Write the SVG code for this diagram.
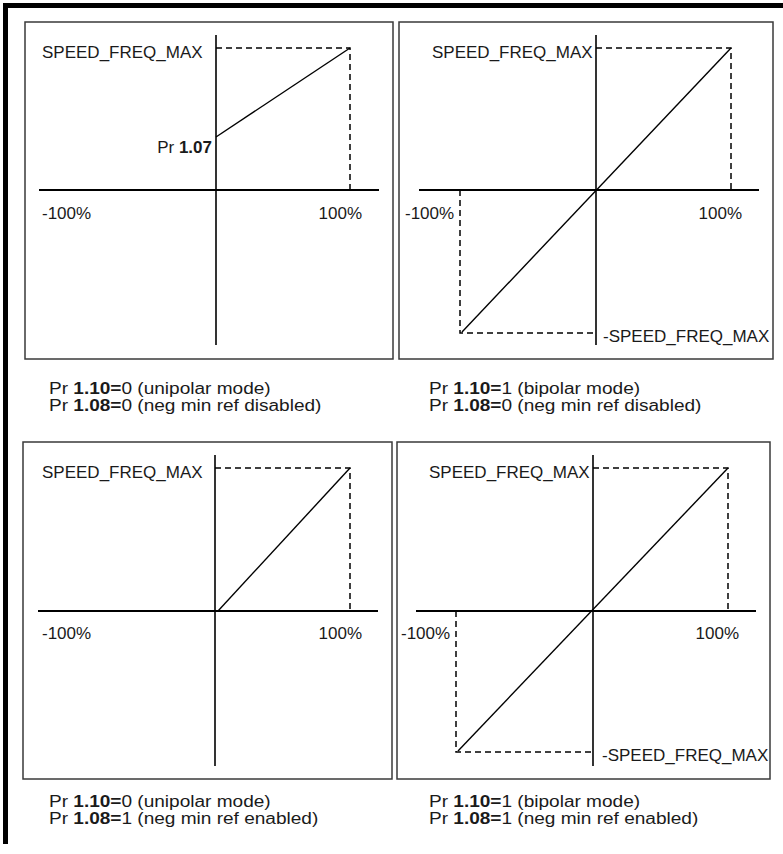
<svg xmlns="http://www.w3.org/2000/svg" width="783" height="854" viewBox="0 0 783 854">
<style>
text{font-family:"Liberation Sans",Arial,sans-serif;fill:#1a1a1a}
.lbl{font-size:17px}
.cap{font-size:16px}
.b{font-weight:bold}
.panel{fill:none;stroke:#3a3a3a;stroke-width:1.5}
.axis{stroke:#000;stroke-width:2;fill:none}
.yaxis{stroke:#000;stroke-width:1.6;fill:none}
.curve{stroke:#000;stroke-width:1.4;fill:none}
.dash{stroke:#000;stroke-width:1.5;fill:none;stroke-dasharray:6 4}
</style>
<rect width="783" height="854" fill="#fff"/>
<g id="frame">
<rect x="3" y="3" width="780" height="5" fill="#000"/>
<rect x="3" y="3" width="5" height="841" fill="#000"/>
</g>

<g id="panel1">
<rect class="panel" x="25" y="22" width="368" height="337"/>
<line class="axis" x1="39" y1="190" x2="379" y2="190"/>
<line class="yaxis" x1="216" y1="35" x2="216" y2="345"/>
<polyline class="dash" points="216,48 350,48 350,190"/>
<line class="curve" x1="216" y1="137" x2="350" y2="48"/>
<text class="lbl" x="42" y="57.5">SPEED_FREQ_MAX</text>
<text class="lbl" x="212" y="153" text-anchor="end">Pr <tspan class="b">1.07</tspan></text>
<text class="lbl" x="42" y="219">-100%</text>
<text class="lbl" x="362" y="219" text-anchor="end">100%</text>
<text class="cap" transform="translate(49,394) scale(1.19,1)">Pr <tspan class="b">1.10=</tspan>0 (unipolar mode)</text>
<text class="cap" transform="translate(49,411) scale(1.19,1)">Pr <tspan class="b">1.08=</tspan>0 (neg min ref disabled)</text>
</g>

<g id="panel2">
<rect class="panel" x="399" y="22" width="374" height="337"/>
<line class="axis" x1="419" y1="190" x2="759" y2="190"/>
<line class="yaxis" x1="596" y1="35" x2="596" y2="345"/>
<polyline class="dash" points="596,48 731,48 731,190"/>
<polyline class="dash" points="460,190 460,333 596,333"/>
<line class="curve" x1="731" y1="48" x2="462" y2="332"/>
<text class="lbl" x="432" y="57.5">SPEED_FREQ_MAX</text>
<text class="lbl" x="405" y="219">-100%</text>
<text class="lbl" x="742" y="219" text-anchor="end">100%</text>
<text class="lbl" x="603" y="342">-SPEED_FREQ_MAX</text>
<text class="cap" transform="translate(429,394) scale(1.19,1)">Pr <tspan class="b">1.10=</tspan>1 (bipolar mode)</text>
<text class="cap" transform="translate(429,411) scale(1.19,1)">Pr <tspan class="b">1.08=</tspan>0 (neg min ref disabled)</text>
</g>

<g id="panel3">
<rect class="panel" x="23" y="442" width="369" height="337"/>
<line class="axis" x1="38" y1="611" x2="378" y2="611"/>
<line class="yaxis" x1="215" y1="455" x2="215" y2="766"/>
<polyline class="dash" points="215,468 350,468 350,611"/>
<line class="curve" x1="218" y1="611" x2="350" y2="468"/>
<text class="lbl" x="42" y="477.5">SPEED_FREQ_MAX</text>
<text class="lbl" x="42" y="639">-100%</text>
<text class="lbl" x="362" y="639" text-anchor="end">100%</text>
<text class="cap" transform="translate(49,807) scale(1.19,1)">Pr <tspan class="b">1.10=</tspan>0 (unipolar mode)</text>
<text class="cap" transform="translate(49,824) scale(1.19,1)">Pr <tspan class="b">1.08=</tspan>1 (neg min ref enabled)</text>
</g>

<g id="panel4">
<rect class="panel" x="397" y="442" width="373" height="337"/>
<line class="axis" x1="416" y1="611" x2="756" y2="611"/>
<line class="yaxis" x1="593" y1="455" x2="593" y2="766"/>
<polyline class="dash" points="593,468 728,468 728,611"/>
<polyline class="dash" points="456,611 456,752 593,752"/>
<line class="curve" x1="728" y1="468" x2="458" y2="751"/>
<text class="lbl" x="429" y="477.5">SPEED_FREQ_MAX</text>
<text class="lbl" x="401" y="639">-100%</text>
<text class="lbl" x="739" y="639" text-anchor="end">100%</text>
<text class="lbl" x="602" y="761">-SPEED_FREQ_MAX</text>
<text class="cap" transform="translate(429,807) scale(1.19,1)">Pr <tspan class="b">1.10=</tspan>1 (bipolar mode)</text>
<text class="cap" transform="translate(429,824) scale(1.19,1)">Pr <tspan class="b">1.08=</tspan>1 (neg min ref enabled)</text>
</g>
</svg>
